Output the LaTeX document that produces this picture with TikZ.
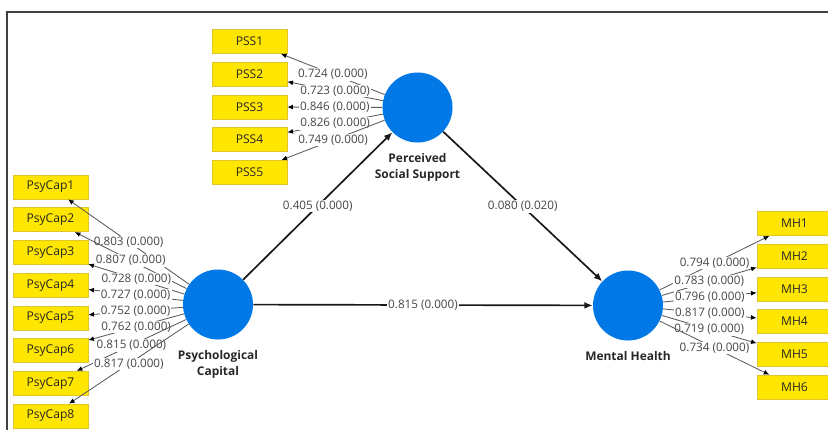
\documentclass[tikz,border=0pt]{standalone}
\usepackage{fontspec}
\setmainfont{Open Sans}
\usetikzlibrary{positioning, arrows.meta}

\definecolor{jaune}{RGB}{255,230,0}
\definecolor{bordjaune}{RGB}{222,198,40}
\definecolor{bleu}{RGB}{0,120,230}

\begin{document}
\begin{tikzpicture}[
  x=0.025cm, y=-0.025cm,
  indic/.style={rectangle, draw=bordjaune, fill=jaune, line width=0.5pt,
                minimum width=1.875cm, minimum height=0.6cm, inner sep=0pt,
                font=\fontsize{8.6}{9}\selectfont, text=black!85},
  latent/.style={circle, fill=bleu, minimum size=1.75cm, inner sep=0pt},
  nomlat/.style={align=center, inner sep=0pt, text=black!85,
                 font=\fontsize{8.5}{11.4}\selectfont\bfseries},
  charge/.style={draw=black!65, line width=0.6pt,
                 -{Latex[length=4pt,width=3.5pt,black]}},
  chemin/.style={draw=black!90, line width=1.2pt,
                 -{Latex[length=6pt,width=5pt]}},
  coef/.style={fill=white, inner sep=0.8pt, text=black!72,
               font=\fontsize{8.3}{9}\selectfont}
]

  \useasboundingbox (0,0) rectangle (828,430);
  \draw[line width=1.4pt, black!75] (7,430) -- (7,12) -- (832,12);

  %=========================================================
  % 1. Variables latentes
  %=========================================================
  \node[latent] (PSS) at (417.5,107.5) {};
  \node[latent] (PsyCap) at (218,304.5) {};
  \node[latent] (MH) at (628,305.5) {};

  \node[nomlat, below=0.27cm of PSS] (nomPSS) {Perceived\\Social Support};
  \node[nomlat, below=0.27cm of PsyCap] (nomPsyCap) {Psychological\\Capital};
  \node[nomlat, below=0.27cm of MH] (nomMH) {Mental Health};

  %=========================================================
  % 2. Relations structurelles
  %=========================================================
  \draw[chemin] (PsyCap) -- node[coef] {0.405 (0.000)} (PSS);
  \draw[chemin] (PSS) -- node[coef] {0.080 (0.020)} (MH);
  \draw[chemin] (PsyCap) -- node[coef] {0.815 (0.000)} (MH);

  %=========================================================
  % 3. Indicateurs de Perceived Social Support
  %=========================================================
  \node[indic] (PSS1) at (249.5,41.5) {PSS1};
  \node[indic, below=0.2cm of PSS1] (PSS2) {PSS2};
  \node[indic, below=0.2cm of PSS2] (PSS3) {PSS3};
  \node[indic, below=0.2cm of PSS3] (PSS4) {PSS4};
  \node[indic, below=0.2cm of PSS4] (PSS5) {PSS5};

  \draw[charge] (PSS) -- node[coef] {0.724 (0.000)} (PSS1);
  \draw[charge] (PSS) -- node[coef] {0.723 (0.000)} (PSS2);
  \draw[charge] (PSS) -- node[coef] {0.846 (0.000)} (PSS3);
  \draw[charge] (PSS) -- node[coef] {0.826 (0.000)} (PSS4);
  \draw[charge] (PSS) -- node[coef] {0.749 (0.000)} (PSS5);

  %=========================================================
  % 4. Indicateurs de Psychological Capital
  %=========================================================
  \node[indic] (PsyCap1) at (50.5,187) {PsyCap1};
  \node[indic, below=0.2cm of PsyCap1] (PsyCap2) {PsyCap2};
  \node[indic, below=0.2cm of PsyCap2] (PsyCap3) {PsyCap3};
  \node[indic, below=0.2cm of PsyCap3] (PsyCap4) {PsyCap4};
  \node[indic, below=0.2cm of PsyCap4] (PsyCap5) {PsyCap5};
  \node[indic, below=0.2cm of PsyCap5] (PsyCap6) {PsyCap6};
  \node[indic, below=0.2cm of PsyCap6] (PsyCap7) {PsyCap7};
  \node[indic, below=0.2cm of PsyCap7] (PsyCap8) {PsyCap8};

  \draw[charge] (PsyCap) -- node[coef] {0.803 (0.000)} (PsyCap1);
  \draw[charge] (PsyCap) -- node[coef] {0.807 (0.000)} (PsyCap2);
  \draw[charge] (PsyCap) -- node[coef] {0.728 (0.000)} (PsyCap3);
  \draw[charge] (PsyCap) -- node[coef] {0.727 (0.000)} (PsyCap4);
  \draw[charge] (PsyCap) -- node[coef] {0.752 (0.000)} (PsyCap5);
  \draw[charge] (PsyCap) -- node[coef] {0.762 (0.000)} (PsyCap6);
  \draw[charge] (PsyCap) -- node[coef] {0.815 (0.000)} (PsyCap7);
  \draw[charge] (PsyCap) -- node[coef] {0.817 (0.000)} (PsyCap8);

  %=========================================================
  % 5. Indicateurs de Mental Health
  %=========================================================
  \node[indic] (MH1) at (794.5,223.5) {MH1};
  \node[indic, below=0.2cm of MH1] (MH2) {MH2};
  \node[indic, below=0.2cm of MH2] (MH3) {MH3};
  \node[indic, below=0.2cm of MH3] (MH4) {MH4};
  \node[indic, below=0.2cm of MH4] (MH5) {MH5};
  \node[indic, below=0.2cm of MH5] (MH6) {MH6};

  \draw[charge] (MH) -- node[coef] {0.794 (0.000)} (MH1);
  \draw[charge] (MH) -- node[coef] {0.783 (0.000)} (MH2);
  \draw[charge] (MH) -- node[coef] {0.796 (0.000)} (MH3);
  \draw[charge] (MH) -- node[coef] {0.817 (0.000)} (MH4);
  \draw[charge] (MH) -- node[coef] {0.719 (0.000)} (MH5);
  \draw[charge] (MH) -- node[coef] {0.734 (0.000)} (MH6);

\end{tikzpicture}
\end{document}
